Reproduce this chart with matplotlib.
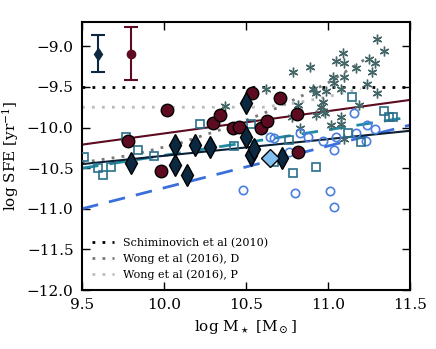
import numpy as np
import matplotlib
matplotlib.use('Agg')
import matplotlib.pyplot as plt

plt.rcParams['font.family'] = 'DejaVu Serif'
plt.rcParams['mathtext.fontset'] = 'dejavuserif'

# maroon filled circles
mar_x = [9.78, 9.98, 10.02, 10.30, 10.34, 10.42, 10.46, 10.54, 10.59, 10.63, 10.71, 10.81, 10.82]
mar_y = [-10.17, -10.54, -9.78, -9.94, -9.85, -10.01, -9.99, -9.57, -10.01, -9.92, -9.64, -9.83, -10.30]

# navy diamonds
nav_x = [9.80, 10.07, 10.07, 10.14, 10.19, 10.28, 10.50, 10.50, 10.53, 10.55, 10.72]
nav_y = [-10.43, -10.22, -10.46, -10.59, -10.21, -10.24, -9.70, -10.12, -10.34, -10.26, -10.37]

# light blue diamond
lb_x = [10.65]
lb_y = [-10.37]

# teal open squares
sq_x = [9.51, 9.60, 9.63, 9.68, 9.77, 9.84, 9.94, 10.22, 10.43, 10.53, 10.67, 10.76,
        10.79, 10.93, 11.12, 11.15, 11.20, 11.34, 11.37, 11.40]
sq_y = [-10.36, -10.50, -10.59, -10.48, -10.11, -10.27, -10.35, -9.96, -10.23, -9.95, -10.42, -10.15,
        -10.56, -10.49, -10.07, -9.62, -10.18, -9.80, -9.87, -9.87]

# blue open circles
ci_x = [10.48, 10.65, 10.67, 10.76, 10.80, 10.83, 10.88, 10.97, 11.01, 11.04, 11.04, 11.05,
        11.16, 11.17, 11.23, 11.24, 11.29]
ci_y = [-10.77, -10.12, -10.13, -10.30, -10.81, -10.07, -10.11, -10.17, -10.78, -10.27, -10.98, -10.12,
        -9.82, -10.07, -10.16, -9.97, -10.02]

# gray stars
st_x = [10.37, 10.62, 10.78, 10.79, 10.82, 10.83, 10.89, 10.91, 10.93, 10.93, 10.96, 10.97,
        10.97, 10.98, 10.99, 11.02, 11.03, 11.04, 11.05, 11.08, 11.08, 11.08, 11.09, 11.10,
        11.10, 11.10, 11.17, 11.19, 11.24, 11.25, 11.27, 11.29, 11.30, 11.30, 11.34]
st_y = [-9.74, -9.52, -9.87, -9.31, -9.72, -10.00, -9.25, -9.52, -9.58, -9.84, -9.75, -9.69,
        -9.80, -9.82, -9.55, -9.97, -9.38, -9.45, -9.18, -9.53, -9.87, -9.95, -9.08, -9.20,
        -9.38, -10.14, -9.27, -9.72, -9.46, -9.15, -9.31, -9.20, -8.91, -9.57, -9.06]

# fit lines (end points)
line_x = [9.5, 11.5]
mar_line = [-10.21, -9.66]
nav_line = [-10.45, -10.04]
teal_line = [-10.50, -9.87]
blue_line = [-11.00, -9.97]

# literature relations
schim_x = [9.5, 11.5]
schim_y = [-9.5, -9.5]
wongd_x = [9.5, 9.8, 10.1, 10.4, 10.7, 11.0, 11.25]
wongd_y = [-10.43, -10.34, -10.19, -9.99, -9.75, -9.45, -9.13]
wongp_x = [9.5, 10.6, 10.8, 11.0, 11.2]
wongp_y = [-9.75, -9.75, -9.70, -9.62, -9.52]

# typical error bars
err_x = [9.60, 9.80]
err_y = [-9.09, -9.09]
err_e = [0.23, 0.33]

fig = plt.figure(figsize=(4.36, 3.49), dpi=100)
ax = fig.add_axes([0.188, 0.169, 0.752, 0.768])

dots = (1, 2.6)
l1, = ax.plot(schim_x, schim_y, ls=':', dashes=dots, color='black', lw=2)
l2, = ax.plot(wongd_x, wongd_y, ls=':', dashes=dots, color='#777777', lw=2)
l3, = ax.plot(wongp_x, wongp_y, ls=':', dashes=dots, color='#bbbbbb', lw=2)

ax.plot(line_x, blue_line, ls='--', dashes=(6, 4), color='#3a6fdc', lw=2, zorder=2)
ax.plot(line_x, teal_line, ls='--', dashes=(6, 4), color='#1f8ba3', lw=2, zorder=2)
ax.plot(line_x, nav_line, color='#0b2035', lw=1.5, zorder=2)
ax.plot(line_x, mar_line, color='#5c0b20', lw=1.5, zorder=2)

ax.plot(st_x, st_y, ls='none', marker=(6, 2, 0), ms=7, mec='#456666', mew=1.0, zorder=3)
ax.plot(ci_x, ci_y, ls='none', marker='o', ms=6, mfc='none', mec='#4a7ee0', mew=1.2, zorder=3)
ax.plot(sq_x, sq_y, ls='none', marker='s', ms=6, mfc='none', mec='#2a6f8a', mew=1.2, zorder=3)
ax.plot(mar_x, mar_y, ls='none', marker='o', ms=9, mfc='#5c0b20', mec='black', mew=1, zorder=4)
ax.plot(nav_x, nav_y, ls='none', marker='d', ms=11, mfc='#0b2840', mec='black', mew=1, zorder=5)
ax.plot(lb_x, lb_y, ls='none', marker='D', ms=9, mfc='#80bff0', mec='black', mew=1, zorder=5)

ax.errorbar(err_x[0], err_y[0], yerr=err_e[0], fmt='d', ms=6, color='#0b2840',
            ecolor='#0b2840', capsize=5, elinewidth=1.5, capthick=1.5)
ax.errorbar(err_x[1], err_y[1], yerr=err_e[1], fmt='o', ms=6, color='#5c0b20',
            ecolor='#5c0b20', capsize=5, elinewidth=1.5, capthick=1.5)

ax.set_xlim(9.5, 11.5)
ax.set_ylim(-12.0, -8.7)
ax.set_xticks([9.5, 10.0, 10.5, 11.0, 11.5])
ax.set_yticks([-12.0, -11.5, -11.0, -10.5, -10.0, -9.5, -9.0])
ax.tick_params(direction='in', top=True, right=True, length=6, width=1, labelsize=11, pad=6)
for s in ax.spines.values():
    s.set_linewidth(1.5)

ax.set_xlabel(r'log M$_\star$ [M$_\odot$]', fontsize=11)
ax.set_ylabel(r'log SFE [yr$^{-1}$]', fontsize=11)

ax.legend([l1, l2, l3], ['Schiminovich et al (2010)', 'Wong et al (2016), D', 'Wong et al (2016), P'],
          loc='lower left', frameon=False, fontsize=8, handlelength=2)

plt.savefig('out.png', dpi=100)
